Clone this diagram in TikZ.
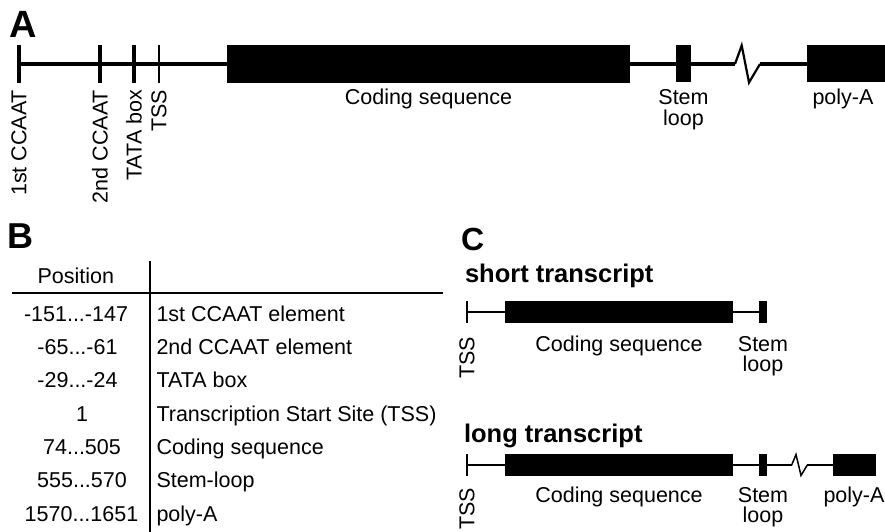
\documentclass[tikz,border=0pt]{standalone}
\usepackage{fontspec}
\setmainfont{Liberation Sans}
\begin{document}
\begin{tikzpicture}[x=1pt,y=-1pt,
  blk/.style={fill=black,draw=none,inner sep=0pt,outer sep=0pt,minimum width=#1},
  blk/.default=4.5,
  lbl/.style={inner sep=0pt,outer sep=0pt,font=\fontsize{21.5}{24}\selectfont},
  panel/.style={inner sep=0pt,outer sep=0pt,anchor=base west,font=\bfseries\fontsize{#1}{#1}\selectfont},
  head/.style={inner sep=0pt,outer sep=0pt,anchor=base west,font=\bfseries\fontsize{25.5}{28}\selectfont},
  mainline/.style={line width=3.5pt},
  zigA/.style={line width=2.2pt,line join=miter},
  thinline/.style={line width=2pt},
  zigC/.style={line width=1.5pt,line join=miter},
  rule/.style={line width=2pt}
]
\useasboundingbox (0,0) rectangle (885,532);

% ---------------- Panel A ----------------
\node[panel=38] (pA) at (9.5,38) {A};
\node[blk, minimum height=38] (c1) at (19,64) {};
\node[blk, minimum height=38] (c2) at (100,64) {};
\node[blk, minimum height=38] (tata) at (134,64) {};
\node[blk=1.2, minimum height=38] (tssA) at (159,64) {};
\node[blk=403, minimum height=38] (cdsA) at (428.5,64) {};
\node[blk=15, minimum height=37] (stemA) at (683.5,64) {};
\node[blk=78, minimum height=37] (polyA) at (846,64) {};
\coordinate (zA1) at (735,64);
\coordinate (zA2) at (741.7,45.5);
\coordinate (zA3) at (749,82.5);
\coordinate (zA4) at (760,64);
\draw[mainline] (c1.center) -- (cdsA.west);
\draw[mainline] (cdsA.east) -- (stemA.west);
\draw[mainline] (stemA.east) -- (zA1);
\draw[zigA] (zA1) -- (zA2) -- (zA3) -- (zA4);
\draw[mainline] (zA4) -- (polyA.west);

\node[lbl, rotate=90, anchor=east] (lc1) at (19,90) {1st CCAAT};
\node[lbl, rotate=90, anchor=east] (lc2) at (100,90) {2nd CCAAT};
\node[lbl, rotate=90, anchor=east] (ltata) at (134,90) {TATA box};
\node[lbl, rotate=90, anchor=east] (ltssA) at (159,90) {TSS};
\node[lbl, anchor=base] (lcdsA) at (428.5,105) {Coding sequence};
\node[lbl, anchor=base] (lstemA) at (683.5,105) {Stem};
\node[lbl, anchor=base] (lloopA) at (683.5,125) {loop};
\node[lbl, anchor=base] (lpolyA) at (843,105) {poly-A};

% ---------------- Panel B ----------------
\node[panel=36] (pB) at (8,248) {B};
\node[lbl, anchor=base] (hpos) at (75.8,283) {Position};
\coordinate (vtop) at (150,261);
\coordinate (vbot) at (150,532);
\coordinate (hl) at (12,293);
\coordinate (hr) at (443,293);
\draw[rule] (vtop) -- (vbot);
\draw[rule] (hl) -- (hr);

\node[lbl, anchor=base] (p1) at (76,321) {-151...-147};
\node[lbl, anchor=base] (p2) at (77.5,354.3) {-65...-61};
\node[lbl, anchor=base] (p3) at (77.5,387.7) {-29...-24};
\node[lbl, anchor=base] (p4) at (82,421) {1};
\node[lbl, anchor=base] (p5) at (82,454.3) {74...505};
\node[lbl, anchor=base] (p6) at (82,487.7) {555...570};
\node[lbl, anchor=base] (p7) at (81.5,521) {1570...1651};

\node[lbl, anchor=base west] (d1) at (156.5,321) {1st CCAAT element};
\node[lbl, anchor=base west] (d2) at (156.5,354.3) {2nd CCAAT element};
\node[lbl, anchor=base west] (d3) at (156.5,387.7) {TATA box};
\node[lbl, anchor=base west] (d4) at (156.5,421) {Transcription Start Site (TSS)};
\node[lbl, anchor=base west] (d5) at (156.5,454.3) {Coding sequence};
\node[lbl, anchor=base west] (d6) at (156.5,487.7) {Stem-loop};
\node[lbl, anchor=base west] (d7) at (156.5,521) {poly-A};

% ---------------- Panel C ----------------
\node[panel=32] (pC) at (461,250) {C};
\node[head] (hshort) at (465,282) {short transcript};
\node[head] (hlong) at (464,442) {long transcript};

% short
\node[blk=2, minimum height=21.5] (tssS) at (466.5,312) {};
\node[blk=228, minimum height=21.5] (cdsS) at (619,312) {};
\node[blk=8, minimum height=21.5] (stemS) at (763,312) {};
\draw[thinline] (tssS.center) -- (cdsS.west);
\draw[thinline] (cdsS.east) -- (stemS.west);
\node[lbl, rotate=90, anchor=east] (ltssS) at (467,337) {TSS};
\node[lbl, anchor=base] (lcdsS) at (619,351) {Coding sequence};
\node[lbl, anchor=base] (lstemS) at (763,351) {Stem};
\node[lbl, anchor=base] (lloopS) at (763,371) {loop};

% long
\node[blk=2, minimum height=22] (tssL) at (466.5,465) {};
\node[blk=228, minimum height=22] (cdsL) at (619,465) {};
\node[blk=8, minimum height=22] (stemL) at (763,465) {};
\node[blk=43, minimum height=22] (polyL) at (854.5,465) {};
\coordinate (zL1) at (791.7,465);
\coordinate (zL2) at (796,454.5);
\coordinate (zL3) at (801,475.5);
\coordinate (zL4) at (807.3,465);
\draw[thinline] (tssL.center) -- (cdsL.west);
\draw[thinline] (cdsL.east) -- (stemL.west);
\draw[thinline] (stemL.east) -- (zL1);
\draw[zigC] (zL1) -- (zL2) -- (zL3) -- (zL4);
\draw[thinline] (zL4) -- (polyL.west);
\node[lbl, rotate=90, anchor=east] (ltssL) at (467,488) {TSS};
\node[lbl, anchor=base] (lcdsL) at (619,502) {Coding sequence};
\node[lbl, anchor=base] (lstemL) at (763,502) {Stem};
\node[lbl, anchor=base] (lloopL) at (763,522) {loop};
\node[lbl, anchor=base] (lpolyL) at (854,502) {poly-A};
\end{tikzpicture}
\end{document}
